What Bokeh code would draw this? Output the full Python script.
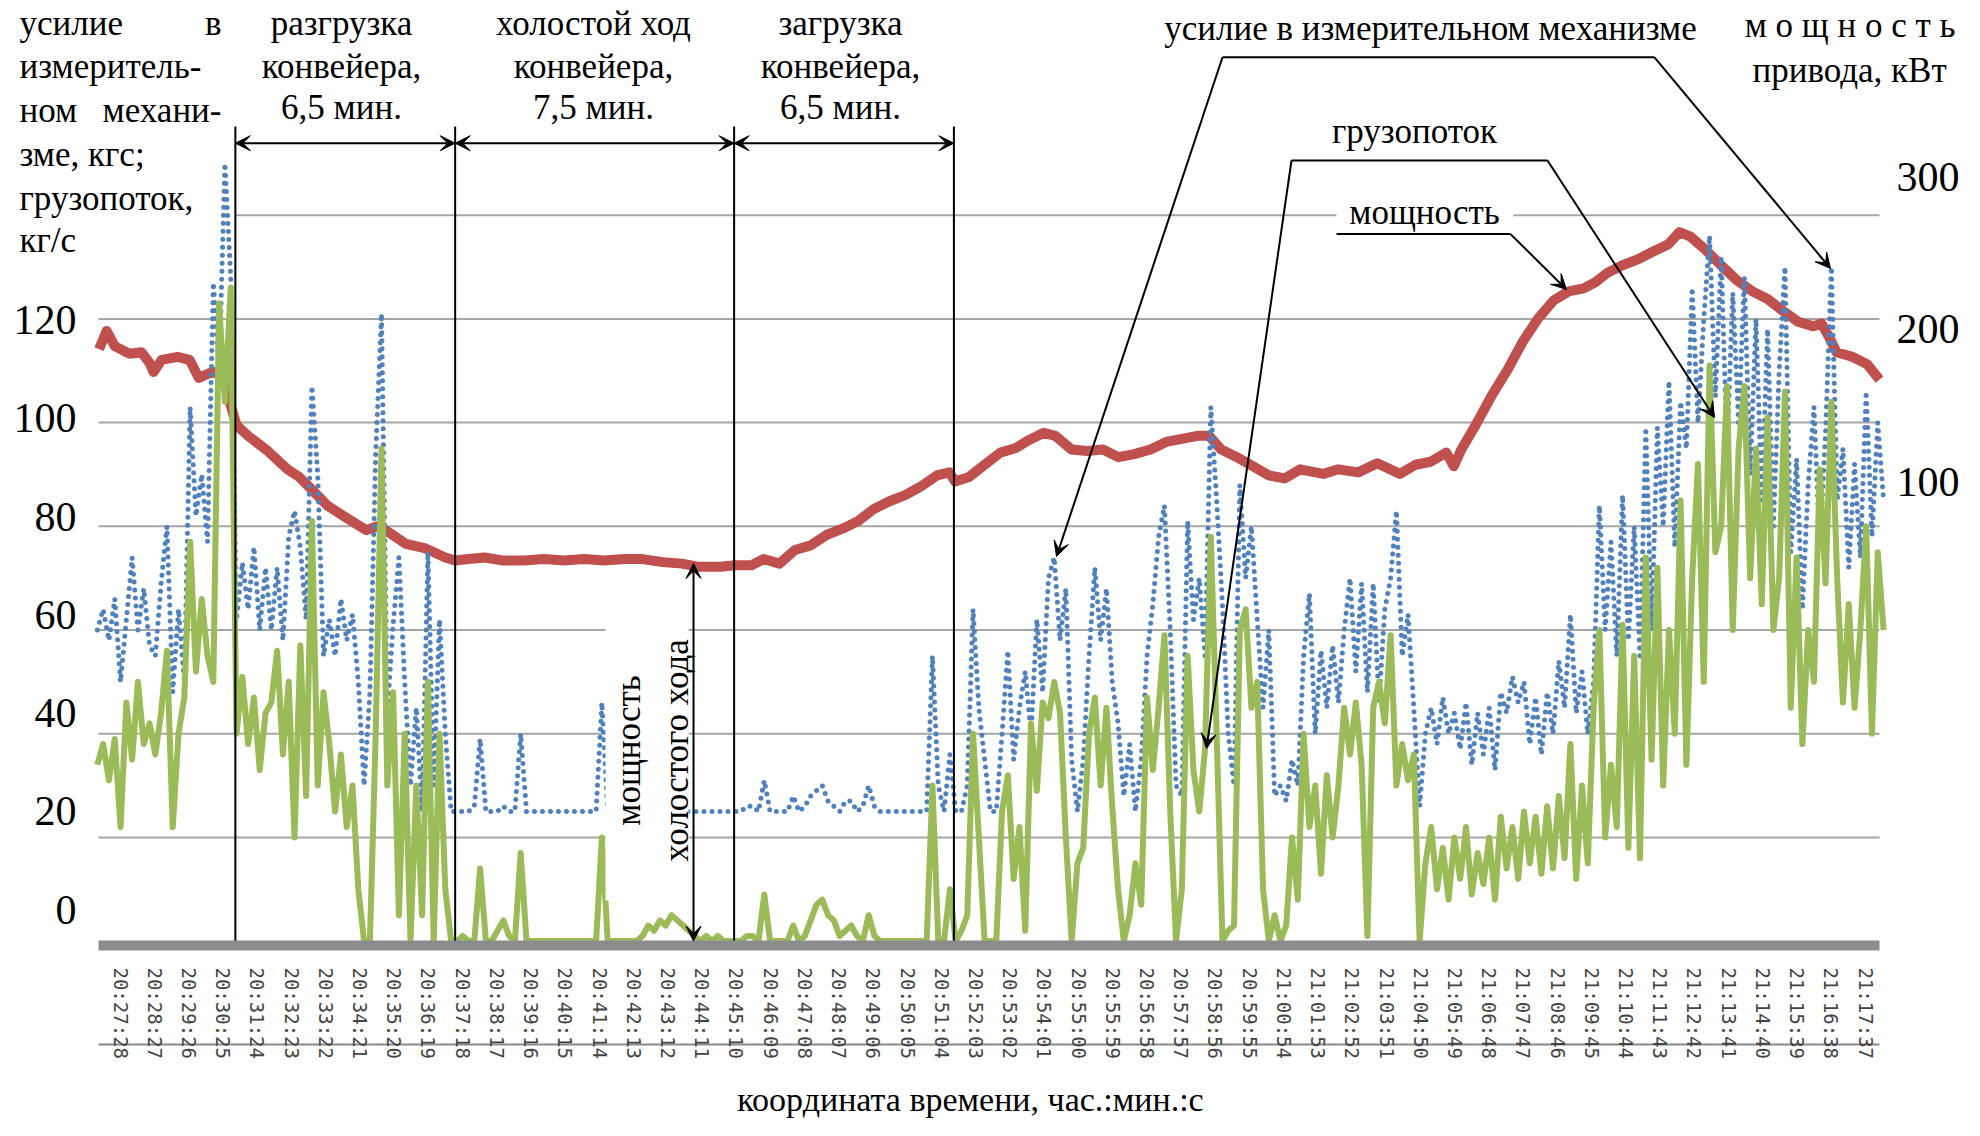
from bokeh.plotting import figure
from bokeh.models import (Range1d, LinearAxis, FixedTicker, Label, Arrow, VeeHead,
                          BoxAnnotation, ColumnDataSource)
from bokeh.embed import file_html
from bokeh.resources import INLINE

# ---------------- data ----------------
time_labels = ["20:27:28", "20:28:27", "20:29:26", "20:30:25", "20:31:24", "20:32:23", "20:33:22",
               "20:34:21", "20:35:20", "20:36:19", "20:37:18", "20:38:17", "20:39:16", "20:40:15",
               "20:41:14", "20:42:13", "20:43:12", "20:44:11", "20:45:10", "20:46:09", "20:47:08",
               "20:48:07", "20:49:06", "20:50:05", "20:51:04", "20:52:03", "20:53:02", "20:54:01",
               "20:55:00", "20:55:59", "20:56:58", "20:57:57", "20:58:56", "20:59:55", "21:00:54",
               "21:01:53", "21:02:52", "21:03:51", "21:04:50", "21:05:49", "21:06:48", "21:07:47",
               "21:08:46", "21:09:45", "21:10:44", "21:11:43", "21:12:42", "21:13:41", "21:14:40",
               "21:15:39", "21:16:38", "21:17:37"]

# sample times, seconds after 20:27:28 (10 s step)
sample_t = list(range(-40, 3041, 10))

# force in the measuring mechanism, kgf (blue dotted)
force = [60, 64, 58, 66, 50, 62, 74, 60, 68, 57,
         55, 69, 80, 48, 64, 50, 103, 82, 90, 77,
         127, 110, 150, 128, 62, 73, 64, 76, 60, 72,
         60, 72, 58, 78, 83, 76, 62, 107, 90, 55,
         62, 55, 66, 58, 63, 50, 30, 48, 94, 121,
         44, 61, 74, 50, 30, 45, 25, 75, 30, 62,
         40, 25, 25, 25, 25, 26, 39, 25, 25, 25,
         26, 25, 25, 40, 25, 25, 25, 25, 25, 25,
         25, 25, 25, 25, 25, 25, 25, 46, 25, 25,
         25, 25, 25, 25, 25, 25, 25, 25, 25, 25,
         25, 25, 25, 25, 25, 25, 25, 25, 25, 25,
         25, 25, 26, 26, 25, 31, 25, 25, 25, 25,
         28, 25, 26, 28, 29, 30, 27, 26, 25, 27,
         27, 25, 26, 30, 26, 25, 25, 25, 25, 25,
         25, 25, 25, 25, 55, 30, 25, 36, 25, 25,
         30, 64, 45, 35, 25, 25, 40, 56, 35, 45,
         52, 40, 62, 48, 70, 74, 58, 68, 35, 25,
         35, 55, 72, 58, 68, 50, 42, 28, 38, 25,
         35, 55, 65, 78, 84, 60, 30, 28, 81, 62,
         70, 55, 103, 85, 65, 40, 30, 88, 70, 80,
         62, 45, 60, 28, 30, 27, 35, 30, 55, 67,
         40, 56, 45, 57, 46, 60, 70, 52, 69, 48,
         69, 46, 64, 70, 83, 55, 63, 45, 26, 40,
         45, 38, 47, 40, 44, 37, 46, 34, 44, 36,
         45, 33, 48, 44, 51, 46, 50, 38, 47, 36,
         48, 40, 54, 45, 63, 44, 52, 40, 50, 84,
         60, 77, 55, 86, 58, 80, 55, 99, 60, 99,
         80, 108, 76, 104, 95, 126, 100, 120, 136, 105,
         132, 95, 125, 100, 128, 90, 120, 85, 118, 80,
         110, 130, 75, 93, 64, 88, 103, 76, 98, 130,
         85, 95, 72, 92, 74, 106, 78, 100, 85]

# cargo flow, kg/s (green)
flow = [34, 38, 31, 39, 22, 46, 35, 50, 38, 42,
        36, 44, 56, 22, 40, 47, 77, 52, 66, 55,
        50, 123, 104, 126, 40, 51, 38, 47, 33, 44,
        46, 56, 36, 50, 20, 57, 28, 81, 30, 48,
        38, 25, 36, 22, 30, 10, 0, 0, 40, 95,
        30, 48, 5, 40, 0, 30, 5, 50, 0, 40,
        10, 0, 0, 1, 0, 0, 14, 0, 0, 2,
        4, 1, 0, 17, 0, 0, 0, 0, 0, 0,
        0, 0, 0, 0, 0, 0, 0, 20, 0, 0,
        0, 0, 0, 0, 1, 3, 2, 4, 3, 5,
        4, 3, 2, 1, 0, 1, 0, 1, 0, 0,
        0, 0, 1, 1, 0, 9, 0, 0, 0, 0,
        3, 0, 1, 4, 7, 8, 5, 4, 1, 2,
        3, 1, 0, 5, 1, 0, 0, 0, 0, 0,
        0, 0, 0, 0, 30, 0, 0, 10, 0, 2,
        5, 40, 20, 0, 0, 0, 25, 32, 12, 22,
        2, 42, 29, 46, 43, 50, 44, 20, 0, 15,
        18, 40, 47, 30, 45, 26, 10, 0, 5, 15,
        7, 47, 33, 45, 59, 25, 0, 10, 55, 33,
        25, 37, 78, 40, 0, 2, 3, 60, 64, 45,
        50, 10, 0, 5, 0, 3, 20, 8, 40, 22,
        30, 13, 32, 20, 30, 45, 36, 46, 34, 1,
        45, 50, 42, 59, 30, 38, 31, 36, 0, 15,
        22, 10, 18, 8, 20, 12, 22, 9, 17, 11,
        20, 8, 24, 14, 22, 12, 25, 15, 24, 13,
        26, 14, 28, 16, 38, 12, 30, 15, 45, 60,
        20, 34, 22, 61, 18, 55, 16, 74, 35, 72,
        30, 60, 40, 85, 34, 70, 92, 50, 111, 75,
        80, 107, 60, 95, 107, 70, 95, 65, 101, 60,
        70, 106, 45, 74, 38, 60, 50, 91, 69, 104,
        70, 46, 65, 45, 60, 80, 40, 75, 60]

# drive power, kW (red)
power_t = [-37, -24, -10, 5, 16, 36, 50, 57, 71, 85,
           98, 119, 135, 152, 165, 179, 190, 200, 220, 254,
           288, 308, 329, 357, 390, 424, 445, 465, 492, 526,
           560, 577, 600, 628, 660, 696, 730, 764, 800, 833,
           870, 900, 935, 968, 995, 1034, 1060, 1088, 1109, 1136,
           1163, 1190, 1218, 1245, 1272, 1299, 1326, 1353, 1381, 1408,
           1429, 1439, 1463, 1490, 1517, 1544, 1565, 1592, 1612, 1640,
           1667, 1694, 1721, 1748, 1776, 1803, 1830, 1857, 1877, 1898,
           1925, 1953, 1980, 2007, 2034, 2074, 2100, 2134, 2167, 2206,
           2233, 2259, 2286, 2299, 2312, 2338, 2365, 2391, 2418, 2444,
           2471, 2497, 2523, 2543, 2563, 2589, 2616, 2642, 2669, 2688,
           2707, 2734, 2760, 2788, 2814, 2840, 2867, 2893, 2919, 2933,
           2946, 2959, 2986, 3012, 3033]
power_kw = [187, 199, 189, 186, 184, 185, 178, 172, 180, 181,
            182, 180, 168, 171, 172, 166, 150, 137, 130, 120,
            108, 103, 95, 84, 76, 68, 71, 66, 59, 56,
            50, 48, 49, 50, 48, 48, 49, 48, 49, 48,
            49, 49, 47, 46, 44, 44, 45, 45, 49, 46,
            55, 58, 65, 69, 74, 82, 87, 91, 97, 104,
            106, 100, 103, 111, 119, 122, 127, 132, 130, 121,
            120, 121, 116, 118, 121, 126, 128, 130, 130, 121,
            116, 110, 104, 102, 108, 105, 108, 106, 112, 105,
            111, 113, 119, 110, 121, 138, 157, 173, 192, 207,
            219, 225, 227, 231, 237, 242, 246, 251, 256, 264,
            261, 252, 242, 232, 225, 220, 212, 205, 202, 204,
            195, 185, 182, 177, 167]

left_ticks = [0, 20, 40, 60, 80, 100, 120]
right_ticks = [100, 200, 300]
grid_levels = [20, 40, 60, 80, 100, 120, 140]
phase_t = [198, 577, 1058, 1437]          # phase boundaries, s
idle_t = 988                              # idle-power arrow time, s


def secs(s):
    h, m, ss = (int(v) for v in s.split(":"))
    return h * 3600 + m * 60 + ss


T0 = secs(time_labels[0])
tick_t = [secs(s) - T0 for s in time_labels]

# ---------------- layout helpers (reference pixel -> data) ----------------
W, H = 1964, 1120
PX_L, PX_R = 98.0, 1879.0     # plot-area left/right edge (px)
T_L, T_R = -38.0, 3033.0      # time at those edges (s)
KX = (T_R - T_L) / (PX_R - PX_L)


def tx(px):
    return T_L + (px - PX_L) * KX


def lin(v_a, py_a, v_b, py_b):
    k = (v_b - v_a) / (py_b - py_a)
    return (lambda py: v_a + (py - py_a) * k)


ly = lin(0, 940.6, 140, 214.7)          # main (force / flow) scale
lbl_y = lin(0, 909.0, 120, 319.5)       # left tick-label scale
pow_y = lin(100, 481.0, 300, 176.8)     # power scale

p = figure(width=W, height=H, output_backend="svg", toolbar_location=None,
           x_range=Range1d(tx(0), tx(W)), y_range=Range1d(ly(H), ly(0)),
           x_axis_location=None, y_axis_location=None,
           min_border_left=0, min_border_right=0, min_border_top=0, min_border_bottom=0)
p.outline_line_color = None
p.background_fill_color = "white"
p.border_fill_color = "white"
p.xgrid.visible = False
p.ygrid.visible = False
p.extra_y_ranges = {"lbl": Range1d(lbl_y(H), lbl_y(0)), "power": Range1d(pow_y(H), pow_y(0))}

# ---------------- grid lines ----------------
g_x0 = [phase_t[0] if g == 140 else T_L for g in grid_levels]
p.segment(x0=g_x0, y0=grid_levels, x1=[T_R] * len(grid_levels), y1=grid_levels,
          line_color="#a6a6a6", line_width=2)

# ---------------- axes ----------------
xa = LinearAxis(fixed_location=ly(945), ticker=FixedTicker(ticks=tick_t), bounds=(T_L, T_R))
xa.major_label_overrides = {tt: lab for tt, lab in zip(tick_t, time_labels)}
xa.axis_line_color = "#8c8c8c"
xa.axis_line_width = 10
xa.major_tick_line_color = None
xa.minor_tick_line_color = None
xa.major_label_orientation = "vertical"
xa.major_label_text_font = "DejaVu Sans Mono"
xa.major_label_text_font_size = "19px"
xa.major_label_text_color = "#444444"
xa.major_label_standoff = 16
p.add_layout(xa, "below")

ax_l = LinearAxis(y_range_name="lbl", fixed_location=T_L, ticker=FixedTicker(ticks=left_ticks))
ax_r = LinearAxis(y_range_name="power", fixed_location=T_R, ticker=FixedTicker(ticks=right_ticks))
for ax, st in ((ax_l, 16), (ax_r, 11)):
    ax.axis_line_color = None
    ax.major_tick_line_color = None
    ax.minor_tick_line_color = None
    ax.major_label_text_font = "Liberation Serif"
    ax.major_label_text_font_size = "42px"
    ax.major_label_text_color = "black"
    ax.major_label_standoff = st
p.add_layout(ax_l, "left")
p.add_layout(ax_r, "right")

# thin line through the time labels
p.segment(x0=[T_L], y0=[ly(1044)], x1=[T_R], y1=[ly(1044)], line_color="#8a8a8a", line_width=2)

# ---------------- series ----------------
src = ColumnDataSource(dict(t=sample_t, force=force, flow=flow))
p.line(power_t, power_kw, y_range_name="power", line_color="#C0504D", line_width=10,
       line_join="round")
p.line("t", "force", source=src, line_color="#4F81BD", line_width=5, line_dash="0 8",
       line_cap="round")
p.line("t", "flow", source=src, line_color="#9BBB59", line_width=6, line_join="round")

# ---------------- annotations ----------------
FONT = "Liberation Serif"


def text(px, py, s, size=35, align="center", angle=0.0):
    p.add_layout(Label(x=tx(px), y=ly(py), text=s, text_font=FONT,
                       text_font_size=f"{size}px", text_align=align,
                       text_baseline="middle", angle=angle, text_color="black"))


def head():
    return VeeHead(size=15, fill_color="black", line_color="black", line_width=1)


# phase separators and arrows
p.segment(x0=phase_t, y0=[ly(942)] * 4, x1=phase_t, y1=[ly(126)] * 4,
          line_color="black", line_width=2)
arr_y = ly(142.7)
for a, b in zip(phase_t[:-1], phase_t[1:]):
    p.add_layout(Arrow(start=head(), end=head(), x_start=a, y_start=arr_y, x_end=b, y_end=arr_y,
                       line_width=2, line_color="black"))

# white box behind the idle-power caption
p.add_layout(BoxAnnotation(left=tx(605), right=tx(688), bottom=ly(900), top=ly(620),
                           fill_color="white", fill_alpha=1, line_color=None))
p.add_layout(Arrow(start=head(), end=head(), x_start=idle_t, y_start=0, x_end=idle_t,
                   y_end=ly(563), line_width=2, line_color="black"))
text(628, 750, "мощность", angle=1.5708)
text(676, 750, "холостого хода", angle=1.5708)

# left caption block
text(19, 23, "усилие", align="left")
text(221, 23, "в", align="right")
text(19, 66, "измеритель-", align="left")
text(19, 110, "ном", align="left")
text(221, 110, "механи-", align="right")
text(19, 154, "зме, кгс;", align="left")
text(19, 198, "грузопоток,", align="left")
text(19, 240, "кг/с", align="left")

# phase captions
for cx, l1, l3 in ((341, "разгрузка", "6,5 мин."), (593, "холостой ход", "7,5 мин."),
                   (840, "загрузка", "6,5 мин.")):
    text(cx, 23, l1)
    text(cx, 66, "конвейера,")
    text(cx, 107, l3)

# right axis caption
text(1955, 25, "м о щ н о с т ь", align="right")
text(1955, 70, "привода,  кВт", align="right")

# leader labels
text(1430, 28, "усилие в измерительном механизме")
text(1414, 131, "грузопоток")
p.add_layout(BoxAnnotation(left=tx(1336), right=tx(1513), bottom=ly(230), top=ly(195),
                           fill_color="white", fill_alpha=1, line_color=None))
text(1424, 212, "мощность")

leaders = [
    # (horizontal y, x left, x right, left tip or None, right tip)  -- reference px
    (56.8, 1222, 1654, (1056, 556), (1830, 268)),
    (160.0, 1291, 1547, (1206, 748), (1714, 417)),
    (233.6, 1336, 1510, None, (1566, 289)),
]
for yh, xl, xr, tl, tr in leaders:
    p.segment(x0=[tx(xl)], y0=[ly(yh)], x1=[tx(xr)], y1=[ly(yh)], line_color="black",
              line_width=2)
    if tl is not None:
        p.add_layout(Arrow(end=head(), x_start=tx(xl), y_start=ly(yh), x_end=tx(tl[0]),
                           y_end=ly(tl[1]), line_width=2, line_color="black"))
    p.add_layout(Arrow(end=head(), x_start=tx(xr), y_start=ly(yh), x_end=tx(tr[0]),
                       y_end=ly(tr[1]), line_width=2, line_color="black"))

text(970, 1099, "координата времени, час.:мин.:с", size=34)

open("out.html", "w").write(file_html(p, INLINE))
